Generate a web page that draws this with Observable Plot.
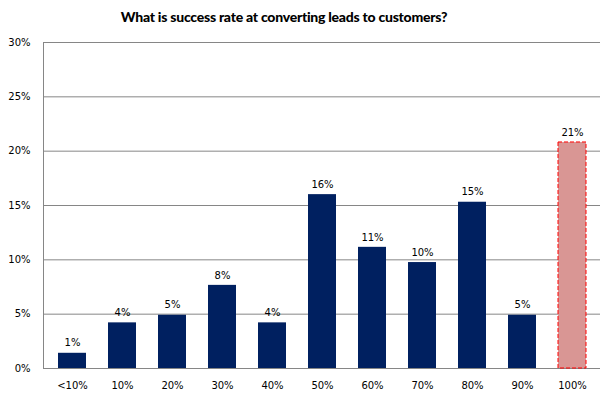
<!DOCTYPE html>
<html>
<head>
<meta charset="utf-8">
<script src="https://cdn.jsdelivr.net/npm/d3@7"></script>
<script src="https://cdn.jsdelivr.net/npm/@observablehq/plot@0.6"></script>
<style>
  html, body { margin: 0; padding: 0; background: #fff; }
  #wrap { width: 605px; height: 396px; position: relative; overflow: hidden; }
  #title { position: absolute; left: 0; top: 0; width: 568px; height: 30px; text-align: center;
           font-family: Lato, "Open Sans", sans-serif; font-weight: 900; font-size: 14px; letter-spacing: -0.25px; line-height: 33px; color: #000; }
  #chart { position: absolute; left: 0; top: 30px; }
</style>
</head>
<body>
<div id="wrap">
  <div id="title">What is success rate at converting leads to customers?</div>
  <div id="chart"></div>
</div>
<script>
const categories = ["<10%", "10%", "20%", "30%", "40%", "50%", "60%", "70%", "80%", "90%", "100%"];
const values = [1.4, 4.2, 4.9, 7.65, 4.2, 16.0, 11.15, 9.75, 15.3, 4.9, 20.8];
const yTicks = [0, 5, 10, 15, 20, 25, 30];
const highlight = "100%";

const data = categories.map((c, i) => ({category: c, value: values[i]}));
const normal = data.filter(d => d.category !== highlight);
const special = data.filter(d => d.category === highlight);

const chart = Plot.plot({
  width: 605,
  height: 366,
  marginTop: 12,
  marginBottom: 28,
  marginLeft: 43,
  marginRight: 5,
  style: {fontFamily: "'DejaVu Sans', Verdana, sans-serif", fontSize: "10px", color: "#000", background: "#fff"},
  x: {domain: categories, paddingInner: 0.44, paddingOuter: 0.22, label: null},
  y: {domain: [0, 30], ticks: yTicks, label: null},
  marks: [
    Plot.ruleY(yTicks, {stroke: "#868686", strokeWidth: 1}),
    Plot.frame({anchor: "left", stroke: "#868686"}),
    Plot.barY(normal, {x: "category", y: "value", fill: "#002060"}),
    Plot.barY(special, {x: "category", y: "value", fill: "#d99694", stroke: "#ff0000", strokeDasharray: "4,2", strokeWidth: 1}),
    Plot.text(data, {x: "category", y: "value", text: d => Math.round(d.value) + "%", dy: -10, fill: "#000"}),
    Plot.axisX({tickSize: 0, tickPadding: 13, label: null}),
    Plot.axisY({ticks: yTicks, tickSize: 0, tickPadding: 13, tickFormat: d => d + "%", label: null})
  ]
});
document.getElementById("chart").appendChild(chart);
</script>
</body>
</html>
